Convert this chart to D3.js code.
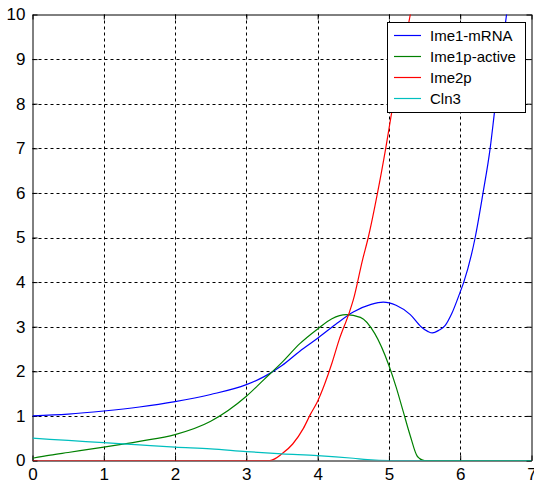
<!DOCTYPE html>
<html>
<head>
<meta charset="UTF-8" />
<script src="https://d3js.org/d3.v7.min.js"></script>
<style>
  body { margin: 0; background: #fff; }
  svg { display: block; font-family: "Liberation Sans", Arial, sans-serif; }
</style>
</head>
<body>
<svg id="chart" width="534" height="483"></svg>
<script>
// series values, [x, y]
const ime1mRNA = [[0,1.0],[0.5,1.04],[1,1.11],[1.5,1.2],[2,1.32],[2.5,1.48],[3,1.7],[3.25,1.88],[3.5,2.13],[3.75,2.45],[4,2.74],[4.25,3.05],[4.5,3.33],[4.75,3.5],[4.92,3.55],[5.1,3.48],[5.3,3.27],[5.45,3.0],[5.55,2.89],[5.61,2.86],[5.7,2.92],[5.79,3.03],[5.88,3.29],[6.0,3.78],[6.05,4.0],[6.21,5.0],[6.32,6.0],[6.42,7.0],[6.48,7.8],[6.57,9.0],[6.65,10],[6.7,10.6]];
const ime1pActive = [[0,0.05],[0.25,0.12],[0.5,0.18],[1,0.3],[1.5,0.43],[2,0.58],[2.5,0.88],[3,1.44],[3.25,1.82],[3.5,2.2],[3.75,2.62],[4,2.95],[4.2,3.18],[4.4,3.27],[4.6,3.21],[4.8,2.85],[5,2.13],[5.1,1.65],[5.2,1.1],[5.3,0.55],[5.4,0.09],[5.5,0],[7,0]];
const ime2p = [[0,0],[3.33,0],[3.5,0.15],[3.65,0.37],[3.8,0.72],[3.9,1.04],[4.0,1.33],[4.1,1.72],[4.2,2.18],[4.3,2.7],[4.44,3.3],[4.5,3.6],[4.63,4.5],[4.71,5.0],[4.84,6.0],[4.955,7.0],[5.06,8.0],[5.18,9.0],[5.3,10],[5.35,10.4]];
const cln3 = [[0,0.5],[0.5,0.45],[1,0.4],[1.5,0.35],[2,0.3],[2.5,0.26],[3,0.2],[3.5,0.15],[4,0.11],[4.5,0.05],[4.7,0.02],[5,0],[7,0]];

const seriesNames = ["Ime1-mRNA", "Ime1p-active", "Ime2p", "Cln3"];
const seriesData = [ime1mRNA, ime1pActive, ime2p, cln3];
const seriesColors = ["#0000ff", "#008000", "#ff0000", "#00bfbf"];
const xTicks = [0, 1, 2, 3, 4, 5, 6, 7];
const yTicks = [0, 1, 2, 3, 4, 5, 6, 7, 8, 9, 10];

const plot = { left: 32.5, right: 531.5, top: 14.5, bottom: 460.5 };

const svg = d3.select("#chart");
const x = d3.scaleLinear().domain([0, 7]).range([plot.left, plot.right]);
const y = d3.scaleLinear().domain([0, 10]).range([plot.bottom, plot.top]);

svg.append("defs").append("clipPath").attr("id", "clip")
  .append("rect")
  .attr("x", plot.left).attr("y", plot.top)
  .attr("width", plot.right - plot.left).attr("height", plot.bottom - plot.top);

// grid (dashed)
const grid = svg.append("g").attr("stroke", "#000").attr("stroke-dasharray", "3,3").attr("stroke-width", 1);
grid.selectAll(".gx").data(xTicks.slice(1, -1)).join("line")
  .attr("x1", d => Math.round(x(d)) + 0.5).attr("x2", d => Math.round(x(d)) + 0.5)
  .attr("y1", plot.top).attr("y2", plot.bottom);
grid.selectAll(".gy").data(yTicks.slice(1, -1)).join("line")
  .attr("y1", d => Math.round(y(d)) + 0.5).attr("y2", d => Math.round(y(d)) + 0.5)
  .attr("x1", plot.left).attr("x2", plot.right);

// axes, ticks inward
const fmt = d3.format("d");
const axisBottom = svg.append("g").attr("transform", `translate(0,${plot.bottom})`)
  .call(d3.axisBottom(x).tickValues(xTicks).tickFormat(fmt).tickSizeInner(-5).tickSizeOuter(0).tickPadding(7));
const axisLeft = svg.append("g").attr("transform", `translate(${plot.left},0)`)
  .call(d3.axisLeft(y).tickValues(yTicks).tickFormat(fmt).tickSizeInner(-5).tickSizeOuter(0).tickPadding(7));
svg.append("g").attr("transform", `translate(0,${plot.top})`)
  .call(d3.axisTop(x).tickValues(xTicks).tickSizeInner(-5).tickSizeOuter(0).tickFormat(""));
svg.append("g").attr("transform", `translate(${plot.right},0)`)
  .call(d3.axisRight(y).tickValues(yTicks).tickSizeInner(-5).tickSizeOuter(0).tickFormat(""));

svg.selectAll(".domain").attr("stroke", "#000");
svg.selectAll(".tick line").attr("stroke", "#000");
axisBottom.selectAll("text").attr("font-size", 17).attr("font-family", "Liberation Sans, Arial, sans-serif").attr("fill", "#000");
axisLeft.selectAll("text").attr("font-size", 17).attr("font-family", "Liberation Sans, Arial, sans-serif").attr("fill", "#000");

// lines
const line = d3.line().x(d => x(d[0])).y(d => y(d[1])).curve(d3.curveMonotoneX);
svg.append("g").attr("clip-path", "url(#clip)")
  .selectAll("path").data(seriesData).join("path")
  .attr("d", line)
  .attr("fill", "none")
  .attr("stroke", (d, i) => seriesColors[i])
  .attr("stroke-width", 1.2);

// legend
const lg = svg.append("g").attr("transform", "translate(387,22)");
lg.append("rect").attr("x", 0.5).attr("y", 0.5).attr("width", 138).attr("height", 90)
  .attr("fill", "#fff").attr("stroke", "#000");
const rows = lg.selectAll(".row").data(seriesNames).join("g")
  .attr("transform", (d, i) => `translate(0,${13.5 + i * 21})`);
rows.append("line").attr("x1", 7).attr("x2", 34).attr("y1", 0).attr("y2", 0)
  .attr("stroke", (d, i) => seriesColors[i]).attr("stroke-width", 1.2);
rows.append("text").attr("x", 43).attr("y", 5.5).attr("font-size", 15).attr("fill", "#000").text(d => d);
</script>
</body>
</html>
